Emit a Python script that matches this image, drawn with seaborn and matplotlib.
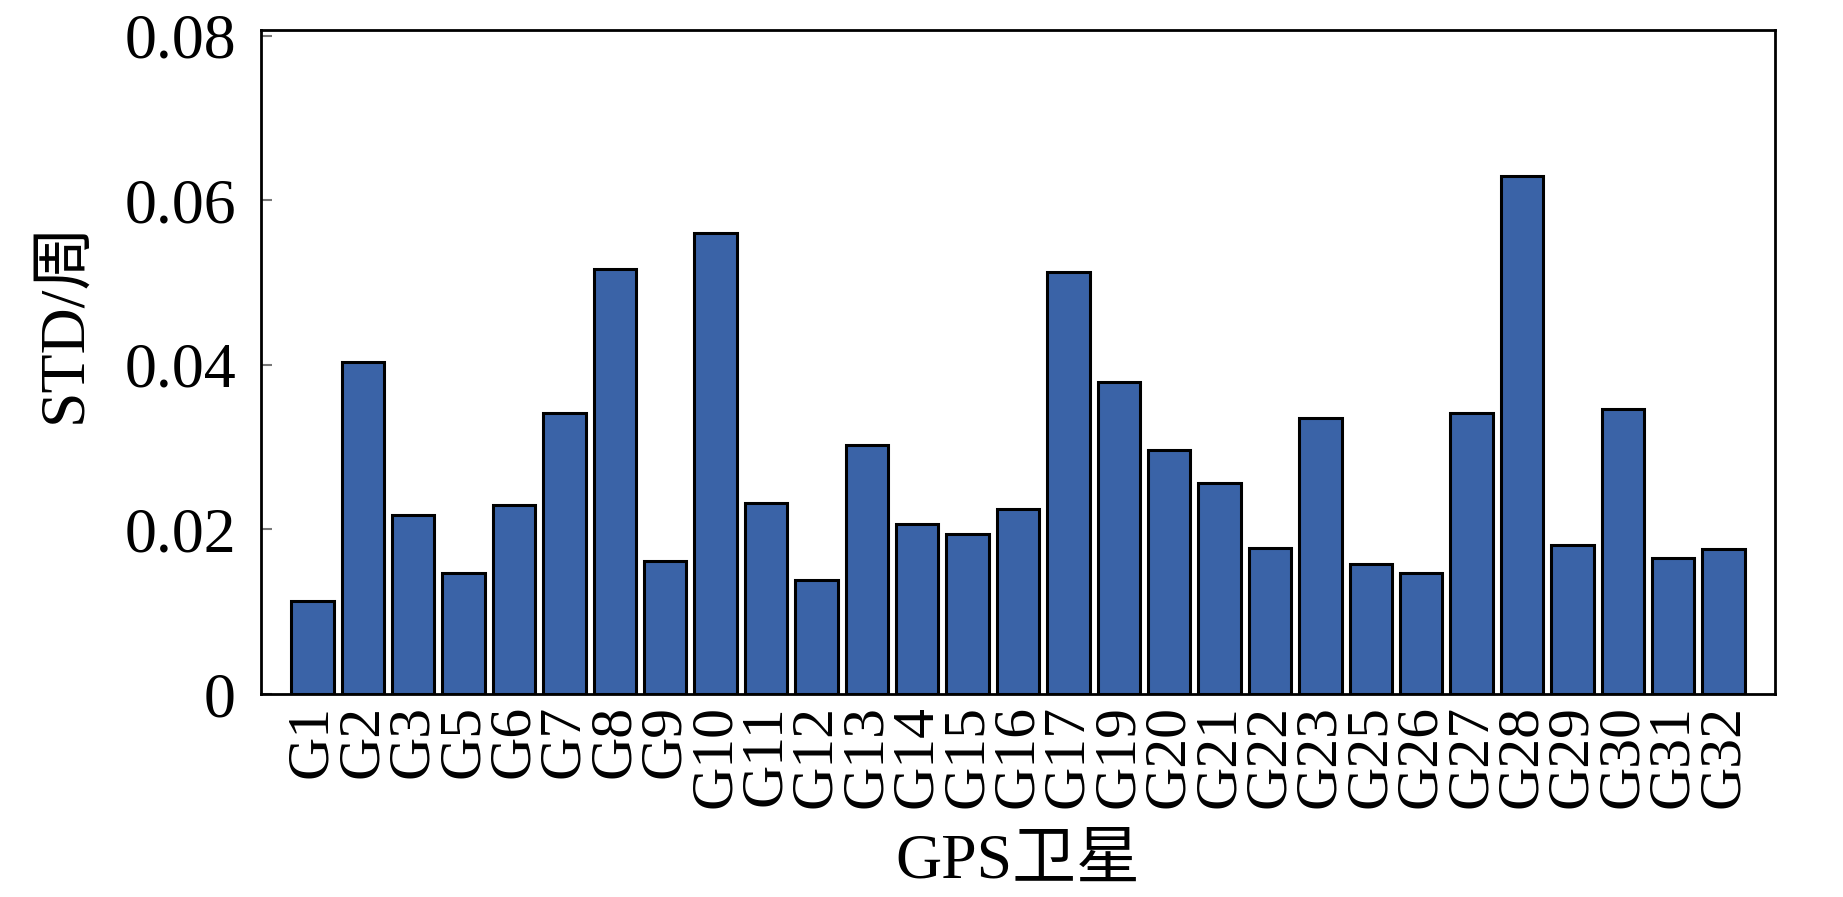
import matplotlib
matplotlib.use("Agg")
import matplotlib.pyplot as plt
import seaborn as sns
import pandas as pd

# satellite labels and STD values (cycles)
satellites = ["G1", "G2", "G3", "G5", "G6", "G7", "G8", "G9", "G10", "G11",
              "G12", "G13", "G14", "G15", "G16", "G17", "G19", "G20", "G21", "G22",
              "G23", "G25", "G26", "G27", "G28", "G29", "G30", "G31", "G32"]
std_values = [0.0113, 0.0404, 0.0218, 0.0147, 0.0230, 0.0341, 0.0517, 0.0162, 0.0560, 0.0232,
              0.0138, 0.0303, 0.0207, 0.0194, 0.0225, 0.0513, 0.0379, 0.0297, 0.0256, 0.0177,
              0.0336, 0.0158, 0.0147, 0.0341, 0.0630, 0.0181, 0.0346, 0.0165, 0.0176]
y_ticks = [0, 0.02, 0.04, 0.06, 0.08]
y_tick_labels = ["0", "0.02", "0.04", "0.06", "0.08"]

df = pd.DataFrame({"sat": satellites, "std": std_values})

sns.set_style("white")
plt.rcParams["font.family"] = ["Liberation Serif", "Noto Sans CJK SC"]
plt.rcParams["text.color"] = "black"
plt.rcParams["axes.labelcolor"] = "black"
plt.rcParams["xtick.color"] = "black"
plt.rcParams["ytick.color"] = "black"

fig = plt.figure(figsize=(18.43, 8.97), dpi=100)
ax = fig.add_axes([0.1416, 0.2263, 0.8215, 0.7403])

sns.barplot(data=df, x="sat", y="std", color="#3a63a7", saturation=1,
            edgecolor="black", linewidth=2.2, width=0.84, ax=ax)

ax.set_xlim(-1.02, len(satellites) + 0.02)
ax.set_ylim(0, 0.0807)
ax.set_yticks(y_ticks)
ax.set_yticklabels(y_tick_labels)

ax.tick_params(axis="y", direction="in", length=8, width=1.5, color="#777777",
               labelcolor="black", labelsize=46, pad=18, left=True)
ax.tick_params(axis="x", direction="in", length=6, width=1.2, color="#333333",
               labelcolor="black", labelsize=43, pad=8, bottom=True, labelrotation=90)

for s in ax.spines.values():
    s.set_color("black")
    s.set_linewidth(2)

ax.set_xlabel("GPS卫星", fontsize=46, color="black")
ax.xaxis.set_label_coords(0.5, -0.21)
ax.set_ylabel("STD/周", fontsize=46, color="black")
ax.yaxis.set_label_coords(-0.110, 0.56)

fig.savefig("out.png", dpi=100)
